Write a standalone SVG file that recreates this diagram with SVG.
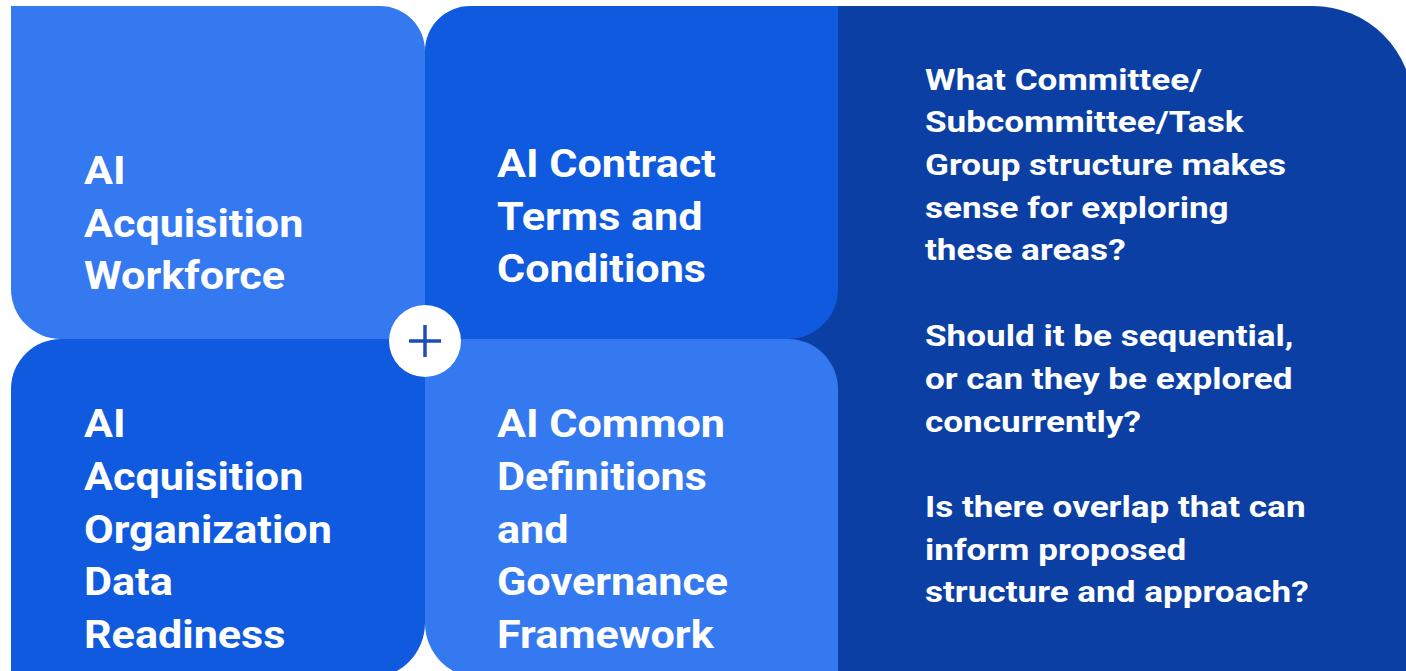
<svg xmlns="http://www.w3.org/2000/svg" width="1406" height="671" viewBox="0 0 1406 671">
  <style>
    .light { fill: #3579f1; }
    .mid { fill: #0f5ade; }
    .dark { fill: #0b3fa3; }
    .title { font-family: Roboto, "Liberation Sans", sans-serif; font-weight: 700; font-size: 38px; fill: #ffffff; }
    .q { font-family: Roboto, "Liberation Sans", sans-serif; font-weight: 700; font-size: 30px; fill: #ffffff; }
  </style>
  <rect x="0" y="0" width="1406" height="671" fill="#ffffff"/>
  <g id="panel-questions">
    <path class="dark" d="M780,6 H1313 A100,100 0 0 1 1413,106 V690 H780 Z"/>
    <text class="q" transform="translate(925,0) scale(1.17,1) translate(-925,0)">
      <tspan x="925" y="90">What Committee/</tspan>
      <tspan x="925" y="132">Subcommittee/Task</tspan>
      <tspan x="925" y="175">Group structure makes</tspan>
      <tspan x="925" y="218">sense for exploring</tspan>
      <tspan x="925" y="260">these areas?</tspan>
      <tspan x="925" y="346">Should it be sequential,</tspan>
      <tspan x="925" y="389">or can they be explored</tspan>
      <tspan x="925" y="432">concurrently?</tspan>
      <tspan x="925" y="517">Is there overlap that can</tspan>
      <tspan x="925" y="560">inform proposed</tspan>
      <tspan x="925" y="602">structure and approach?</tspan>
    </text>
  </g>
  <g id="node-workforce">
    <path class="light" d="M11,6 H380 A45,45 0 0 1 425,51 V339 H61 A50,50 0 0 1 11,289 Z"/>
    <text class="title" transform="translate(84,0) scale(1.135,1) translate(-84,0)">
      <tspan x="84" y="184">AI</tspan>
      <tspan x="84" y="237">Acquisition</tspan>
      <tspan x="84" y="289">Workforce</tspan>
    </text>
  </g>
  <g id="node-contract">
    <path class="mid" d="M470,6 H838 V289 A50,50 0 0 1 788,339 H425 V51 A45,45 0 0 1 470,6 Z"/>
    <text class="title" transform="translate(497,0) scale(1.135,1) translate(-497,0)">
      <tspan x="497" y="177">AI Contract</tspan>
      <tspan x="497" y="230">Terms and</tspan>
      <tspan x="497" y="282">Conditions</tspan>
    </text>
  </g>
  <g id="node-data-readiness">
    <path class="mid" d="M61,339 H425 V623 A55,55 0 0 1 370,678 H11 V389 A50,50 0 0 1 61,339 Z"/>
    <text class="title" transform="translate(84,0) scale(1.135,1) translate(-84,0)">
      <tspan x="84" y="437">AI</tspan>
      <tspan x="84" y="490">Acquisition</tspan>
      <tspan x="84" y="543">Organization</tspan>
      <tspan x="84" y="595">Data</tspan>
      <tspan x="84" y="648">Readiness</tspan>
    </text>
  </g>
  <g id="node-definitions">
    <path class="light" d="M425,339 H788 A50,50 0 0 1 838,389 V678 H480 A55,55 0 0 1 425,623 Z"/>
    <text class="title" transform="translate(497,0) scale(1.135,1) translate(-497,0)">
      <tspan x="497" y="437">AI Common</tspan>
      <tspan x="497" y="490">Definitions</tspan>
      <tspan x="497" y="543">and</tspan>
      <tspan x="497" y="595">Governance</tspan>
      <tspan x="497" y="648">Framework</tspan>
    </text>
  </g>
  <g id="plus">
    <circle cx="425" cy="341" r="36" fill="#ffffff"/>
    <path d="M409,341 H441 M425,325 V357" stroke="#1b4fb3" stroke-width="3.5" fill="none"/>
  </g>
</svg>
